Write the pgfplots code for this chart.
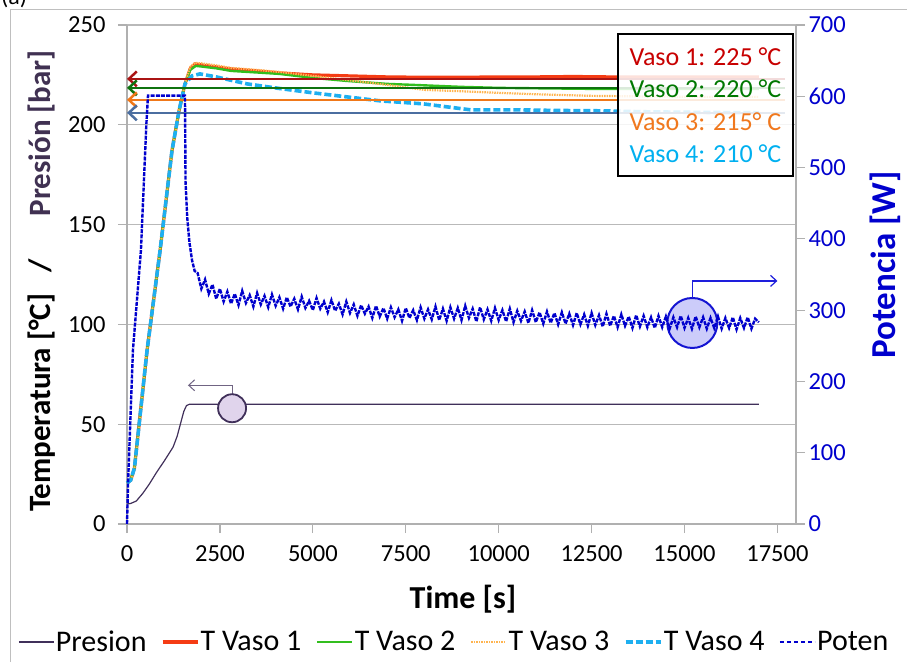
\documentclass[border=0pt]{standalone}
\usepackage{fontspec}
\setmainfont{Carlito}
\usepackage{pgfplots}
\pgfplotsset{compat=1.18}
\usetikzlibrary{arrows.meta}
\definecolor{gridgray}{RGB}{185,185,185}
\definecolor{axgray}{RGB}{176,176,176}
\definecolor{presc}{RGB}{64,48,90}
\definecolor{v1}{RGB}{245,60,20}
\definecolor{v2}{RGB}{50,190,30}
\definecolor{v3}{RGB}{255,180,80}
\definecolor{v4}{RGB}{30,175,240}
\definecolor{potc}{RGB}{0,0,205}
\definecolor{a1}{RGB}{170,20,20}
\definecolor{a2}{RGB}{15,115,15}
\definecolor{a3}{RGB}{240,120,25}
\definecolor{a4}{RGB}{75,110,160}
\definecolor{t1}{RGB}{200,0,0}
\definecolor{t2}{RGB}{0,120,0}
\definecolor{t3}{RGB}{240,120,30}
\definecolor{t4}{RGB}{0,176,240}
\definecolor{labpurple}{RGB}{64,49,82}
\definecolor{circp}{RGB}{224,212,236}
\definecolor{circb}{RGB}{204,204,250}
\definecolor{circbd}{RGB}{20,20,210}
\definecolor{arrb}{RGB}{30,30,220}
\newcommand{\tickfont}{\fontsize{24.5}{28}\selectfont}
\begin{document}
\begin{tikzpicture}
\useasboundingbox (0pt,0pt) rectangle (907pt,662pt);
\draw[gray!50, line width=1pt] (10pt,0pt) -- (10pt,652pt) -- (907pt,652pt);
\node[anchor=base west, inner sep=0, font=\fontsize{24}{28}\selectfont] at (1pt,657pt) {(a)};
\begin{axis}[
  at={(127pt,138pt)}, anchor=south west,
  scale only axis, width=669pt, height=499pt,
  xmin=0, xmax=18000, ymin=0, ymax=250,
  xtick={0,2500,...,17500}, ytick={0,50,...,250},
  axis x line*=bottom, axis y line*=left,
  axis line style={draw=axgray, line width=1.2pt, -},
  tick align=outside, major tick length=9pt,
  tick style={draw=axgray, line width=1.2pt},
  ymajorgrids, grid style={draw=gridgray, line width=1.2pt},
  /pgf/number format/assume math mode=true,
  scaled x ticks=false,
  xticklabel style={font=\tickfont, /pgf/number format/1000 sep={}, yshift=-9pt},
  yticklabel style={font=\tickfont, xshift=-9pt},
  legend columns=6,
  legend style={at={(-0.163,-0.2365)}, anchor=west, draw=none, fill=none,
    font=\fontsize{30}{34}\selectfont, inner sep=0pt,
    nodes={inner sep=1.5pt},
    /tikz/every odd column/.append style={column sep=0pt},
    /tikz/every even column/.append style={column sep=13pt}},
  legend image code/.code={\draw[#1] (0pt,0pt) -- (35pt,0pt);},
  clip=false
]
\addplot[presc, line width=1.2pt] coordinates {
(0,10) (100,10.3) (250,11.5) (431,15.5) (600,20) (800,26) (1000,31.5) (1239,38.5)
(1350,44) (1450,51) (1530,56.5) (1600,59.3) (1680,60) (17000,60)};
\addlegendentry{Presion}
\addplot[v1, line width=3.2pt] coordinates {
(0,20.5) (100,22) (200,28) (540,87) (890,137) (1210,187) (1400,207) (1560,220.5)
(1700,228) (1830,230.5) (2000,230) (2400,229) (2800,228) (3500,227) (4100,226)
(5000,225) (6000,224.5) (7000,224) (8000,223.8) (9000,223.8) (10000,224)
(11000,224) (12000,224.2) (13000,224) (14000,224) (15000,224) (16000,224) (17000,224)};
\addlegendentry{T Vaso 1}
\addplot[v2, line width=2.4pt] coordinates {
(0,20.5) (100,22) (200,28) (540,87) (890,137) (1210,187) (1400,207) (1560,220.5)
(1700,227.5) (1850,229.5) (2000,229.2) (2400,228.3) (2800,227) (3500,226.2) (4100,225.5)
(5000,223.5) (5900,222) (7000,220.5) (7700,220) (9000,219) (10000,218.5)
(11000,218.3) (12500,218) (14000,218) (15500,218) (17000,218)};
\addlegendentry{T Vaso 2}
\addplot[v3, line width=2.2pt, dash pattern=on 1.5pt off 1pt] coordinates {
(0,20.5) (100,22) (200,28) (540,87) (890,137) (1210,187) (1400,207) (1560,220.5)
(1700,229) (1830,231) (2000,230.8) (2400,229.8) (2800,228.5) (3500,227.5) (4100,226.5)
(5000,224.5) (5900,222.5) (7000,220) (8000,217.5) (9000,216.8) (10000,216)
(11000,215.3) (12500,214.5) (14000,214.2) (15500,214) (17000,214)};
\addlegendentry{T Vaso 3}
\addplot[v4, line width=3.6pt, dash pattern=on 7pt off 3pt] coordinates {
(0,20.5) (100,22) (200,28) (540,87) (890,137) (1210,187) (1400,207) (1560,220.5)
(1750,224.5) (1965,225.5) (2400,224) (3230,220.5) (4100,218.2) (5010,216)
(6000,213.8) (6810,212) (7970,210.5) (9240,207.5) (10500,207.5) (11500,207.2)
(12740,207) (14000,206.5) (15500,206.2) (17000,206)};
\addlegendentry{T Vaso 4}
\addlegendimage{potc, line width=1.5pt, dash pattern=on 4pt off 3pt}
\addlegendentry{Poten}
% reference arrows
\draw[a1, line width=2.5pt, {Straight Barb[length=8pt,width=15pt]}-] (axis cs:0,223) -- (axis cs:17700,223);
\draw[a2, line width=2.5pt, {Straight Barb[length=8pt,width=15pt]}-] (axis cs:0,218.5) -- (axis cs:17700,218.5);
\draw[a3, line width=2.5pt, {Straight Barb[length=8pt,width=15pt]}-] (axis cs:0,212.5) -- (axis cs:17700,212.5);
\draw[a4, line width=2.5pt, {Straight Barb[length=8pt,width=15pt]}-] (axis cs:0,206) -- (axis cs:17700,206);
% presion annotation
\draw[presc!75, line width=1pt, -{Straight Barb[length=6pt,width=11pt]}] (axis cs:2827,65) -- (axis cs:2827,69.5) -- (axis cs:1640,69.5);
\filldraw[fill=circp, draw=presc, line width=1.8pt] (axis cs:2827,58) circle[radius=14pt];
\end{axis}
\begin{axis}[
  at={(127pt,138pt)}, anchor=south west,
  scale only axis, width=669pt, height=499pt,
  xmin=0, xmax=18000, ymin=0, ymax=700,
  ytick={0,100,...,700},
  axis x line=none, axis y line*=right,
  axis line style={draw=axgray, line width=1.2pt, -},
  tick align=outside, major tick length=9pt,
  tick style={draw=axgray, line width=1.2pt},
  yticklabel style={font=\tickfont, text=potc},
  /pgf/number format/assume math mode=true,
  clip=false
]
\filldraw[fill=circb, draw=circbd, line width=2pt] (axis cs:15210,282) circle[radius=25pt];
\addplot[potc, line width=2.4pt, dash pattern=on 4pt off 1.2pt] coordinates {
(0,0) (30,60) (160,244) (375,384) (520,560) (565,601) (1000,601) (1560,601)
(1575,480) (1620,430) (1680,395) (1750,370) (1820,355)
(1900,352) (2000,330) (2100,343) (2200,323) (2300,336) (2400,316) (2500,330) (2600,312)
(2700,326) (2800,309) (2900,323) (3000,307) (3100,327) (3200,310) (3300,321) (3400,305)
(3500,324) (3600,308) (3700,320) (3800,304) (3900,322) (4000,306) (4100,318) (4200,302)
(4300,318) (4400,305) (4500,316) (4600,301) (4700,319) (4800,303) (4900,313) (5000,300)
(5100,317) (5200,302) (5300,312) (5400,297) (5500,314) (5600,299) (5700,309) (5800,294)
(5900,312) (6000,296) (6100,308) (6200,292) (6300,307) (6400,295) (6500,305) (6600,289)
(6700,306) (6800,291) (6900,303) (7000,288) (7100,304) (7200,290) (7300,301) (7400,285)
(7500,303) (7600,289) (7700,300) (7800,286) (7900,304) (8000,288) (8100,301) (8200,287)
(8300,305) (8400,286) (8500,302) (8600,285) (8700,304) (8800,288) (8900,303) (9000,286)
(9100,306) (9200,289) (9300,302) (9400,284) (9500,304) (9600,287) (9700,301) (9800,285)
(9900,303) (10000,286) (10100,300) (10200,284) (10300,302) (10400,283) (10500,299) (10600,285)
(10700,298) (10800,282) (10900,300) (11000,283) (11100,297) (11200,281) (11300,298) (11400,282)
(11500,296) (11600,280) (11700,297) (11800,281) (11900,295) (12000,279) (12100,296) (12200,280)
(12300,294) (12400,278) (12500,296) (12600,279) (12700,293) (12800,277) (12900,295) (13000,278)
(13100,292) (13200,276) (13300,294) (13400,278) (13500,291) (13600,275) (13700,293) (13800,277)
(13900,292) (14000,276) (14100,290) (14200,275) (14300,292) (14400,276) (14500,291) (14600,274)
(14700,290) (14800,276) (14900,292) (15000,275) (15100,289) (15200,274) (15300,291) (15400,276)
(15500,290) (15600,274) (15700,289) (15800,275) (15900,291) (16000,274) (16100,289) (16200,275)
(16300,290) (16400,273) (16500,289) (16600,275) (16700,290) (16800,274) (16900,288) (17000,283)};
\draw[arrb, line width=1.2pt, -{Straight Barb[length=6pt,width=11pt]}] (axis cs:15210,317) -- (axis cs:15210,341) -- (axis cs:17500,341);
\end{axis}
% legend box
\node[draw=black, line width=2pt, fill=white, fill opacity=0.85, text opacity=1,
      anchor=north west, minimum width=175pt, minimum height=142pt, inner xsep=9pt,
      align=left, font=\fontsize{26}{32.5}\selectfont] at (617pt,629pt)
  {\textcolor{t1}{Vaso 1: 225 °C}\\ \textcolor{t2}{Vaso 2: 220 °C}\\ \textcolor{t3}{Vaso 3: 215° C}\\ \textcolor{t4}{Vaso 4: 210 °C}};
% axis labels
\node[rotate=90, anchor=base west, inner sep=0, font=\bfseries\fontsize{31}{36}\selectfont] at (50pt,150pt)
  {Temperatura [°C]\hspace{21pt}/\hspace{43pt}\textcolor{labpurple}{Presión [bar]}};
\node[rotate=90, anchor=base west, inner sep=0, text=potc, font=\bfseries\fontsize{35}{40}\selectfont] at (895pt,303pt) {Potencia [W]};
\node[anchor=base, inner sep=0, font=\bfseries\fontsize{32}{36}\selectfont] at (463pt,54pt) {Time [s]};
\end{tikzpicture}
\end{document}
